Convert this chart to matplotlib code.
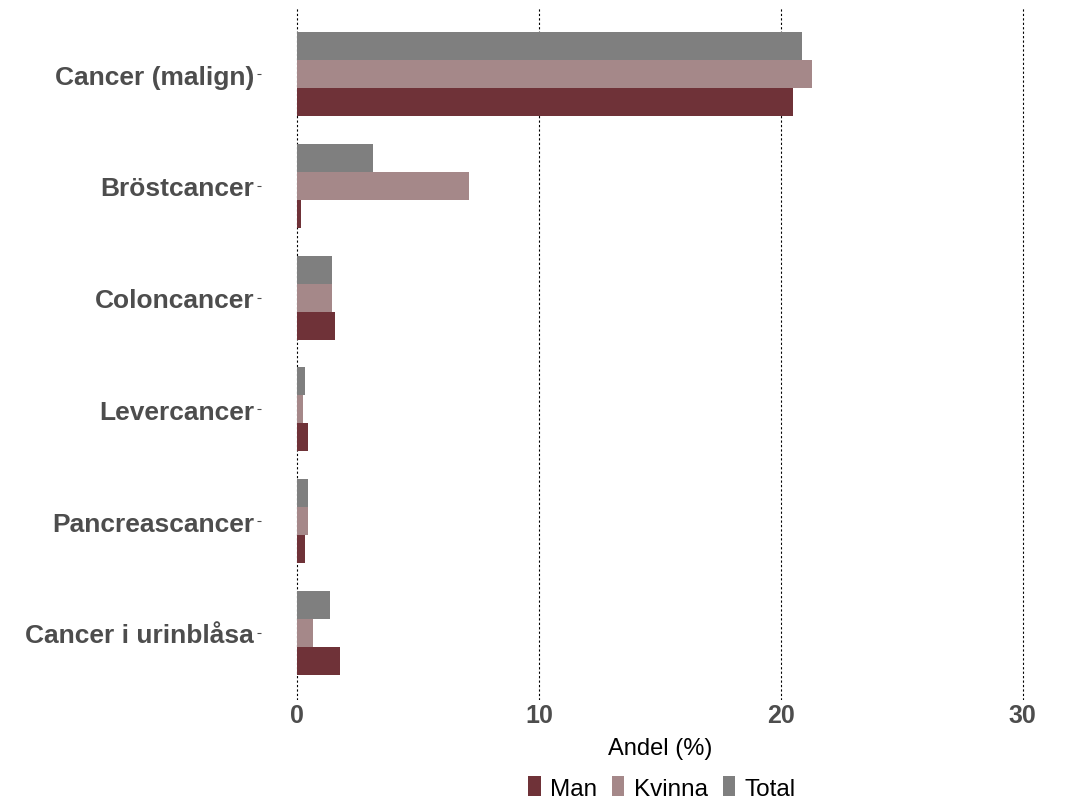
import matplotlib
matplotlib.use("Agg")
import matplotlib.pyplot as plt
from matplotlib.patches import Patch
import numpy as np

categories = ["Cancer (malign)", "Bröstcancer", "Coloncancer", "Levercancer",
              "Pancreascancer", "Cancer i urinblåsa"]
man = [20.5, 0.14, 1.54, 0.43, 0.34, 1.75]
kvinna = [21.3, 7.12, 1.42, 0.22, 0.43, 0.63]
total = [20.87, 3.14, 1.42, 0.34, 0.43, 1.34]
x_ticks = [0, 10, 20, 30]

series = [("Man", man, "#6F3238", 0.25),
          ("Kvinna", kvinna, "#A58889", 0.0),
          ("Total", total, "#7F7F7F", -0.25)]

plt.rcParams['font.family'] = ['Liberation Sans', 'DejaVu Sans']

fig = plt.figure(figsize=(10.69, 8.03), dpi=100)
ax = fig.add_axes([261 / 1069, 1 - 701 / 803, (1059 - 261) / 1069, (701 - 8) / 803])

y = np.arange(len(categories))
bar_h = 0.25
for name, vals, color, off in series:
    ax.barh(y + off, vals, height=bar_h, color=color, label=name, zorder=2)

ax.set_ylim(len(categories) - 0.4, -0.6)
ax.set_xlim(-1.5, 31.5)
ax.set_yticks(y)
ax.set_yticklabels(categories, fontsize=19, fontweight='bold', color='#4D4D4D',
                   va='center_baseline')
ax.set_xticks(x_ticks)
ax.set_xticklabels([str(t) for t in x_ticks], fontsize=18, fontweight='bold', color='#4D4D4D')
ax.tick_params(axis='y', length=3, width=0.8, color='#4D4D4D', pad=2)
ax.tick_params(axis='x', length=0, pad=2)
ax.xaxis.grid(True, color='black', linestyle=(0, (2, 2)), linewidth=0.8, zorder=0)
ax.yaxis.grid(False)
for s in ax.spines.values():
    s.set_visible(False)
ax.set_xlabel("Andel (%)", fontsize=17, color='black', labelpad=7)

handles = [Patch(facecolor=c, edgecolor='none', label=n) for n, _, c, _ in series]
fig.legend(handles=handles, loc='center', bbox_to_anchor=(662 / 1069, 1 - 789 / 803),
           ncol=3, frameon=False, fontsize=17.5, handlelength=0.5, handleheight=0.9,
           handletextpad=0.4, columnspacing=0.6, borderpad=0)

fig.savefig("out.png", dpi=100)
